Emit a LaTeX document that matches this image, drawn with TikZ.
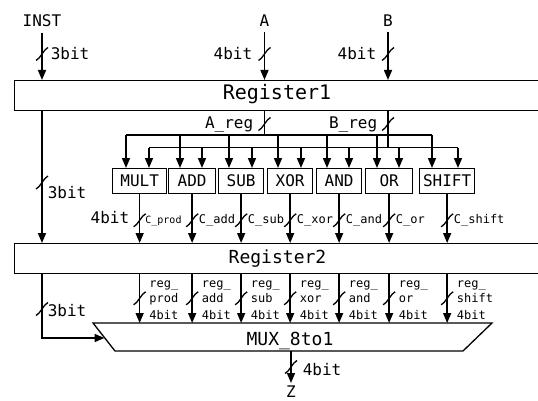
\documentclass[tikz,border=0pt]{standalone}
\usepackage{fontspec}
\setmainfont{DejaVu Sans Mono}
\usetikzlibrary{arrows.meta}
\begin{document}
\begin{tikzpicture}[x=1pt,y=-1pt, line width=1.5pt,
  arr/.style={-{Triangle[length=10pt,width=8pt]}},
  big/.style={font=\fontsize{16}{19}\selectfont, inner sep=0pt},
  small/.style={font=\fontsize{12}{14}\selectfont, inner sep=0pt},
  regbox/.style={draw, line width=1.3pt, anchor=north west, minimum width=560pt, minimum height=30pt, inner sep=0pt},
  fbox/.style={draw, line width=1.3pt, anchor=north west, minimum height=25pt, inner sep=0pt, font=\fontsize{16}{19}\selectfont},
  busslash/.pic={\draw[line width=1.3pt] (-6,6.5) .. controls (-2,5) and (2,-5) .. (6,-6.5);}
]
\useasboundingbox (0,0) rectangle (538,401);

% registers
\node[regbox] (reg1) at (14,80) {};
\node[font=\fontsize{20}{24}\selectfont, inner sep=0pt, anchor=base] (reg1t) at (277,99.6) {Register1};
\node[regbox] (reg2) at (14,243) {};
\node[font=\fontsize{18}{22}\selectfont, inner sep=0pt, anchor=base] (reg2t) at (277.5,263) {Register2};

% inputs
\node[big, anchor=base] (inst) at (42,26.7) {INST};
\node[big, anchor=base] (ain) at (264.5,26.7) {A};
\node[big, anchor=base] (bin) at (388,26.7) {B};
\draw[arr, shorten <=5pt] (inst.south) -- (inst.south |- reg1.north);
\draw[arr, shorten <=5pt] (ain.south) -- (ain.south |- reg1.north);
\draw[arr, shorten <=5pt] (bin.south) -- (bin.south |- reg1.north);
\pic at (42,54) {busslash};
\pic at (264.5,54) {busslash};
\pic at (388,54) {busslash};
\node[big, anchor=base west] (l3top) at (50,60) {3bit};
\node[big, anchor=base east] (l4a) at (253,60) {4bit};
\node[big, anchor=base east] (l4b) at (377,60) {4bit};

% buses from Register1
\coordinate (abus) at (264.5,135);
\coordinate (bbus) at (388,147.7);
\draw (ain.south |- reg1.south) -- (abus);
\draw (bin.south |- reg1.south) -- (bbus);
\pic at (264.5,124) {busslash};
\pic at (388,124) {busslash};
\node[big, anchor=base east] (areg) at (254,128.4) {A\_reg};
\node[big, anchor=base east] (breg) at (378,128.4) {B\_reg};
\coordinate (abusL) at (126,135);
\coordinate (abusR) at (432,135);
\coordinate (bbusL) at (149,147.7);
\coordinate (bbusR) at (458,147.7);
\draw (abusL) -- (abusR);
\draw (bbusL) -- (bbusR);

% MUX
\coordinate (muxTL) at (93,323);
\coordinate (muxTR) at (492,323);
\coordinate (muxBR) at (463,351);
\coordinate (muxBL) at (115,351);
\draw[line width=1.3pt] (muxTL) -- (muxTR) -- (muxBR) -- (muxBL) -- cycle;
\node[font=\fontsize{18}{22}\selectfont, inner sep=0pt, anchor=base] (mux) at (290,345) {MUX\_8to1};
\coordinate (muxin) at (104.5,338);

% function boxes
\foreach \nm/\lab/\l/\w/\ax/\bx/\c in {
  mult/MULT/112/54/126/149/prod,
  add/ADD/168/47/180/202/add,
  sub/SUB/218/45/229/252/sub,
  xor/XOR/267/45/278/301/xor,
  and/AND/316/45/327/349/and,
  or/OR/365/47/377/399/or,
  shift/SHIFT/419/55/432/458/shift}{
  \node[fbox, minimum width=\w pt] (f\nm) at (\l,168) {\lab};
  \draw[arr] (\ax,135) -- (\ax,168);
  \draw[arr] (\bx,147.7) -- (\bx,168);
  \draw[arr] (f\nm.south) -- (f\nm.south |- reg2.north);
  \path (f\nm.south) ++(0,26) pic {busslash};
  \draw[arr] (f\nm.south |- reg2.south) -- (f\nm.south |- muxTL);
  \path (f\nm.south |- reg2.south) ++(0,24) pic {busslash};
  \node[small, anchor=base west] (r\nm a) at ([xshift=9pt]f\nm.south |- 0,287) {reg\_};
  \node[small, anchor=base west] (r\nm b) at ([xshift=9pt]f\nm.south |- 0,302) {\c};
  \node[small, anchor=base west] (r\nm c) at ([xshift=9pt]f\nm.south |- 0,319) {4bit};
}
\foreach \nm/\c in {add/add, sub/sub, xor/xor, and/and, or/or, shift/shift}{
  \node[small, anchor=base west] (c\nm) at ([xshift=6pt]f\nm.south |- 0,223) {C\_\c};
}
\node[font=\fontsize{10}{12}\selectfont, inner sep=0pt, anchor=base west] (cmult) at ([xshift=5pt]fmult.south |- 0,223) {C\_prod};
\node[big, anchor=base east] (l4m) at (130,223.3) {4bit};

% INST path
\draw[arr] (inst.south |- reg1.south) -- (inst.south |- reg2.north);
\pic at (42,182.5) {busslash};
\node[big, anchor=base west] (l3mid) at (47,198) {3bit};
\draw[arr] (inst.south |- reg2.south) |- (muxin);
\pic at (42,309) {busslash};
\node[big, anchor=base west] (l3bot) at (47,316.7) {3bit};

% output
\coordinate (muxout) at (291,351);
\node[big, anchor=base] (zout) at (291,397) {Z};
\draw[arr] (muxout) -- (291,383);
\pic at (291,367) {busslash};
\node[big, anchor=base west] (l4z) at (302,375) {4bit};
\end{tikzpicture}
\end{document}
